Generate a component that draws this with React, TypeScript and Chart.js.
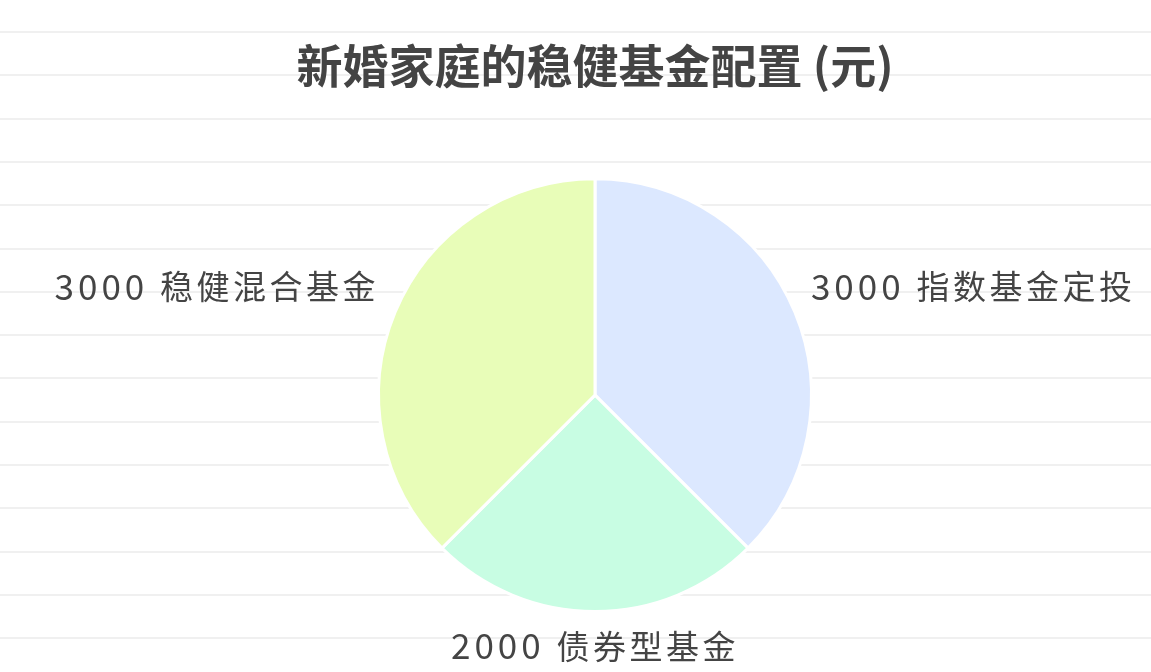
import { useEffect, useRef } from 'react';
import { Chart, registerables } from 'chart.js';

Chart.register(...registerables);

const categories = ['指数基金定投', '债券型基金', '稳健混合基金'];
const amounts = [3000, 2000, 3000];
const sliceColors = ['#dce8ff', '#c8fde3', '#e8fdb8'];
const titleText = '新婚家庭的稳健基金配置 (元)';

const FONT = '"Noto Sans CJK SC", "Noto Sans", sans-serif';

// ruled-paper background
const paperLines = {
  id: 'paperLines',
  beforeDraw(chart: Chart) {
    const { ctx, width, height } = chart;
    ctx.save();
    ctx.fillStyle = '#ffffff';
    ctx.fillRect(0, 0, width, height);
    ctx.strokeStyle = '#f0f0f0';
    ctx.lineWidth = 2;
    for (let y = 32; y < height; y += 43.3) {
      ctx.beginPath();
      ctx.moveTo(0, Math.round(y));
      ctx.lineTo(width, Math.round(y));
      ctx.stroke();
    }
    ctx.restore();
  },
};

// number + name, number slightly larger and wider spaced
function drawLabel(ctx: CanvasRenderingContext2D, num: string, name: string, x: number, y: number, align: 'left' | 'right' | 'center') {
  const c = ctx as any;
  ctx.textAlign = 'left';
  ctx.textBaseline = 'middle';
  ctx.font = `35px ${FONT}`;
  c.letterSpacing = '4px';
  const wNum = ctx.measureText(num + ' ').width;
  ctx.font = `33px ${FONT}`;
  c.letterSpacing = '3.5px';
  const wName = ctx.measureText(name).width;
  const total = wNum + wName;
  let sx = x;
  if (align === 'center') sx = x - total / 2;
  if (align === 'right') sx = x - total;
  ctx.font = `35px ${FONT}`;
  c.letterSpacing = '4px';
  ctx.fillText(num + ' ', sx, y);
  ctx.font = `33px ${FONT}`;
  c.letterSpacing = '3.5px';
  ctx.fillText(name, sx + wNum, y);
}

// labels outside each slice
const outsideLabels = {
  id: 'outsideLabels',
  afterDatasetsDraw(chart: Chart) {
    const { ctx } = chart;
    const meta = chart.getDatasetMeta(0);
    ctx.save();
    ctx.fillStyle = '#444444';
    meta.data.forEach((el: any, i: number) => {
      const { x, y, startAngle, endAngle, outerRadius } = el.getProps(['x', 'y', 'startAngle', 'endAngle', 'outerRadius'], true);
      const mid = (startAngle + endAngle) / 2;
      const r = outerRadius * 1.15;
      const px = x + Math.cos(mid) * r;
      const py = y + Math.sin(mid) * r;
      const num = String(amounts[i]);
      if (Math.abs(px - x) < 5) {
        drawLabel(ctx, num, categories[i], px, py + 2, 'center');
      } else if (px > x) {
        drawLabel(ctx, num, categories[i], px - 14, py - 13, 'left');
      } else {
        drawLabel(ctx, num, categories[i], px + 14, py - 13, 'right');
      }
    });
    ctx.restore();
  },
};

export default function App() {
  const canvasRef = useRef<HTMLCanvasElement>(null);

  useEffect(() => {
    document.body.style.margin = '0';
    if (!canvasRef.current) return;
    const chart = new Chart(canvasRef.current, {
      type: 'pie',
      data: {
        labels: categories,
        datasets: [{
          data: amounts,
          backgroundColor: sliceColors,
          borderColor: '#ffffff',
          borderWidth: 3,
        }],
      },
      options: {
        animation: false,
        responsive: true,
        maintainAspectRatio: false,
        layout: { padding: { top: 0, bottom: 59, left: 39, right: 0 } },
        plugins: {
          legend: { display: false },
          tooltip: { enabled: false },
          title: {
            display: true,
            text: titleText,
            color: '#444444',
            font: { family: FONT, size: 46, weight: 'bold', lineHeight: 1.2 },
            padding: { top: 38, bottom: 84 },
          },
        },
      },
      plugins: [paperLines, outsideLabels],
    });
    return () => chart.destroy();
  }, []);

  return (
    <div style={{ width: 1151, height: 672, position: 'relative' }}>
      <canvas ref={canvasRef} />
    </div>
  );
}
